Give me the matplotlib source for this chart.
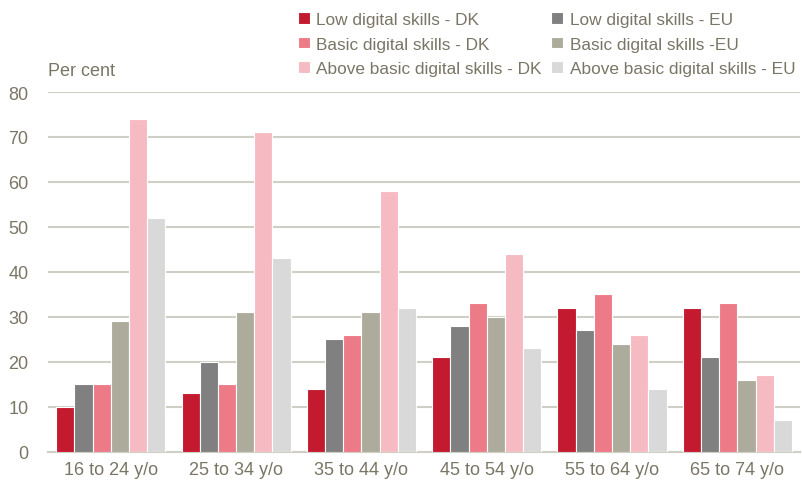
import matplotlib
matplotlib.use("Agg")
import matplotlib.pyplot as plt
import numpy as np

# data (per cent)
age_groups = ["16 to 24 y/o", "25 to 34 y/o", "35 to 44 y/o",
              "45 to 54 y/o", "55 to 64 y/o", "65 to 74 y/o"]
low_dk = [10, 13, 14, 21, 32, 32]
low_eu = [15, 20, 25, 28, 27, 21]
basic_dk = [15, 15, 26, 33, 35, 33]
basic_eu = [29, 31, 31, 30, 24, 16]
above_dk = [74, 71, 58, 44, 26, 17]
above_eu = [52, 43, 32, 23, 14, 7]

series = [
    ("Low digital skills - DK", low_dk, "#C41A2F"),
    ("Low digital skills - EU", low_eu, "#808080"),
    ("Basic digital skills - DK", basic_dk, "#EC7A87"),
    ("Basic digital skills -EU", basic_eu, "#ADAC9C"),
    ("Above basic digital skills - DK", above_dk, "#F6BBC2"),
    ("Above basic digital skills - EU", above_eu, "#D9D9D9"),
]

plt.rcParams["font.family"] = ["Liberation Sans", "DejaVu Sans"]
text_col = "#7A7666"
grid_col = "#D0CFC6"

fig = plt.figure(figsize=(8.02, 4.89), dpi=100)
ax = fig.add_axes([0.0599, 0.0746, 0.9376, 0.7352])

x = np.arange(len(age_groups))
bw = 0.145
handles = []
for i, (name, vals, col) in enumerate(series):
    b = ax.bar(x + (i - 2.5) * bw, vals, bw, color=col, edgecolor="white",
               linewidth=0.8, label=name, zorder=3)
    handles.append(b)

ax.set_xlim(-0.5, 5.5)
ax.set_ylim(0, 80)
ax.set_yticks(range(0, 81, 10))
ax.set_xticks(x, labels=age_groups)
ax.grid(axis="y", color=grid_col, linewidth=1.5, zorder=0)
ax.set_axisbelow(True)
for s in ["top", "right", "left"]:
    ax.spines[s].set_visible(False)
ax.spines["bottom"].set_color(grid_col)
ax.spines["bottom"].set_linewidth(1.5)
ax.tick_params(axis="both", length=0, labelsize=13, colors=text_col)
ax.tick_params(axis="y", pad=14)
ax.tick_params(axis="x", pad=7)

fig.text(0.06, 0.836, "Per cent", fontsize=13, color=text_col, ha="left", va="bottom")

# DK series in the left column, EU in the right
order = [0, 2, 4, 1, 3, 5]
leg = fig.legend([handles[i] for i in order], [series[i][0] for i in order],
                 ncol=2, loc="upper left", bbox_to_anchor=(0.357, 0.998),
                 frameon=False, fontsize=12.4, handlelength=0.65, handleheight=0.65,
                 handletextpad=0.4, columnspacing=0.55, labelspacing=0.55,
                 borderaxespad=0.3)
for t in leg.get_texts():
    t.set_color(text_col)

fig.savefig("out.png", dpi=100)
